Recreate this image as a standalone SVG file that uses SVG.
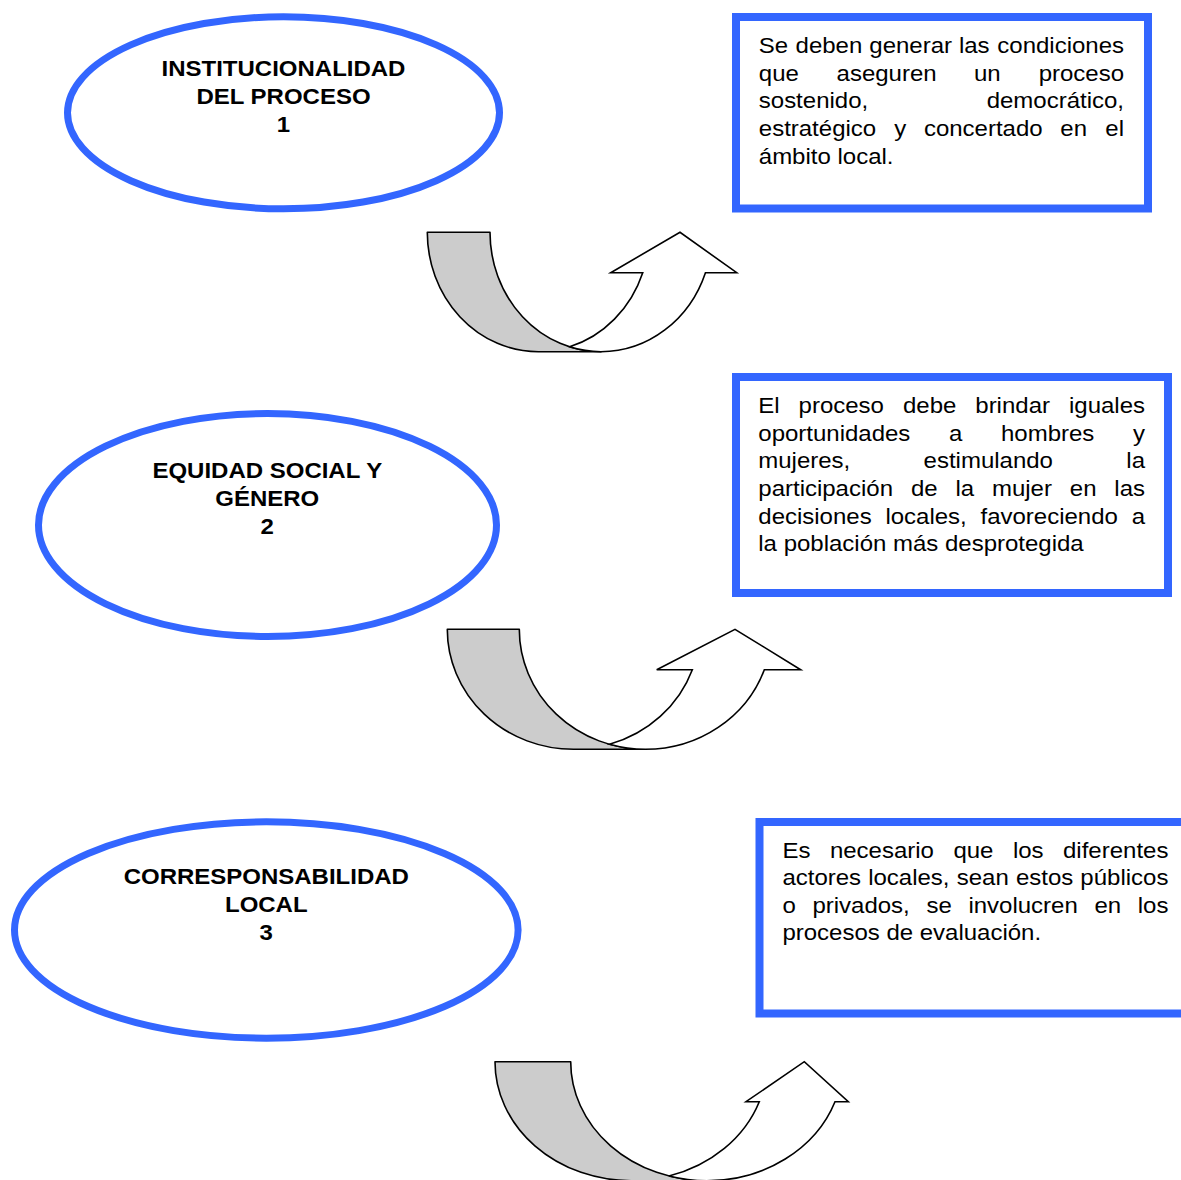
<svg xmlns="http://www.w3.org/2000/svg" width="1181" height="1180" viewBox="0 0 1181 1180">
  <style>
    .oval { fill: #ffffff; stroke: #3366ff; stroke-width: 7; }
    .box { fill: #ffffff; stroke: #3366ff; stroke-width: 8; }
    .title { font-family: "Liberation Sans", Arial, sans-serif; font-weight: bold; font-size: 24px; text-anchor: middle; fill: #000000; }
    .body { font-family: "Liberation Sans", Arial, sans-serif; font-size: 24px; fill: #000000; }
    .end { text-anchor: end; }
    .back { fill: #cccccc; stroke: #000000; stroke-width: 1.6; stroke-linejoin: round; }
    .front { fill: #ffffff; stroke: #000000; stroke-width: 1.6; stroke-linejoin: miter; }
  </style>
  <rect width="1181" height="1180" fill="#ffffff"/>

  <!-- principle 1 -->
  <g id="oval-1">
    <ellipse class="oval" cx="283.5" cy="112.8" rx="216" ry="96"/>
    <g transform="translate(0 75.7) scale(1 0.9333)">
      <text class="title" x="283.5" y="0">INSTITUCIONALIDAD</text>
      <text class="title" x="283.5" y="30">DEL PROCESO</text>
      <text class="title" x="283.5" y="60">1</text>
    </g>
  </g>
  <g id="note-1">
    <rect class="box" x="736" y="17" width="412" height="191.5"/>
    <g transform="translate(0 53.3) scale(1 0.9333)">
      <text class="body" y="0"><tspan x="758.8">Se</tspan><tspan x="795.6">deben</tspan><tspan x="869.3">generar</tspan><tspan x="958.9">las</tspan><tspan class="end" x="1124">condiciones</tspan></text>
      <text class="body" y="29.57"><tspan x="758.8">que</tspan><tspan x="836.6">aseguren</tspan><tspan x="973.9">un</tspan><tspan class="end" x="1124">proceso</tspan></text>
      <text class="body" y="59.14"><tspan x="758.8">sostenido,</tspan><tspan class="end" x="1124">democrático,</tspan></text>
      <text class="body" y="88.71"><tspan x="758.8">estratégico</tspan><tspan x="894.3">y</tspan><tspan x="923.9">concertado</tspan><tspan x="1060.3">en</tspan><tspan class="end" x="1124">el</tspan></text>
      <text class="body" x="758.8" y="118.29">ámbito local.</text>
    </g>
  </g>

  <!-- principle 2 -->
  <g id="oval-2">
    <ellipse class="oval" cx="267.5" cy="525" rx="229" ry="111.5"/>
    <g transform="translate(0 477.7) scale(1 0.9333)">
      <text class="title" x="267.3" y="0">EQUIDAD SOCIAL Y</text>
      <text class="title" x="267.3" y="30">GÉNERO</text>
      <text class="title" x="267.3" y="60">2</text>
    </g>
  </g>
  <g id="note-2">
    <rect class="box" x="736" y="377" width="432" height="216"/>
    <g transform="translate(0 413.3) scale(1 0.9333)">
      <text class="body" y="0"><tspan x="758.3">El</tspan><tspan x="798.6">proceso</tspan><tspan x="903">debe</tspan><tspan x="975.3">brindar</tspan><tspan class="end" x="1145">iguales</tspan></text>
      <text class="body" y="29.57"><tspan x="758.3">oportunidades</tspan><tspan x="949">a</tspan><tspan x="1001">hombres</tspan><tspan class="end" x="1145">y</tspan></text>
      <text class="body" y="59.14"><tspan x="758.3">mujeres,</tspan><tspan x="923.6">estimulando</tspan><tspan class="end" x="1145">la</tspan></text>
      <text class="body" y="88.71"><tspan x="758.3">participación</tspan><tspan x="910.9">de</tspan><tspan x="955.4">la</tspan><tspan x="991.9">mujer</tspan><tspan x="1069.8">en</tspan><tspan class="end" x="1145">las</tspan></text>
      <text class="body" y="118.29"><tspan x="758.3">decisiones</tspan><tspan x="885.4">locales,</tspan><tspan x="980.5">favoreciendo</tspan><tspan class="end" x="1145">a</tspan></text>
      <text class="body" x="758.3" y="147.86">la población más desprotegida</text>
    </g>
  </g>

  <!-- principle 3 -->
  <g id="oval-3">
    <ellipse class="oval" cx="266.3" cy="930" rx="251.8" ry="108.2"/>
    <g transform="translate(0 884) scale(1 0.9333)">
      <text class="title" x="266.3" y="0">CORRESPONSABILIDAD</text>
      <text class="title" x="266.3" y="30">LOCAL</text>
      <text class="title" x="266.3" y="60">3</text>
    </g>
  </g>
  <g id="note-3">
    <rect class="box" x="759.5" y="822" width="450" height="191.5"/>
    <g transform="translate(0 857.7) scale(1 0.9333)">
      <text class="body" y="0"><tspan x="782.4">Es</tspan><tspan x="829.9">necesario</tspan><tspan x="953.4">que</tspan><tspan x="1012.9">los</tspan><tspan class="end" x="1168.4">diferentes</tspan></text>
      <text class="body" y="29.57"><tspan x="782.4">actores</tspan><tspan x="868.2">locales,</tspan><tspan x="956.7">sean</tspan><tspan x="1015.9">estos</tspan><tspan class="end" x="1168.4">públicos</tspan></text>
      <text class="body" y="59.14"><tspan x="782.4">o</tspan><tspan x="812.4">privados,</tspan><tspan x="926.4">se</tspan><tspan x="968.4">involucren</tspan><tspan x="1094.4">en</tspan><tspan class="end" x="1168.4">los</tspan></text>
      <text class="body" x="782.4" y="88.71">procesos de evaluación.</text>
    </g>
  </g>

  <!-- curved up arrows: shaded back band, then the front band with its head -->
  <g id="connectors">
    <g id="arrow-1">
      <path class="back" d="M427.3,232.3 A111,119.4 0 0 0 538.3,351.7 L601,351.7 A111,119.4 0 0 1 490,232.3 Z"/>
      <path class="front" d="M569.65,346.84 A111,119.4 0 0 0 642.75,272.7 L610.7,272.7 L680,232.3 L736.7,272.7 L705.45,272.7 A111,119.4 0 0 1 601,351.7 A111,119.4 0 0 1 569.65,346.84 Z"/>
    </g>
    <g id="arrow-2">
      <path class="back" d="M447.3,629.3 A126.2,120 0 0 0 573.5,749.3 L645.5,749.3 A126.2,120 0 0 1 519.3,629.3 Z"/>
      <path class="front" d="M609.5,744.26 A126.2,120 0 0 0 692.33,669.7 L656.7,669.7 L735,629.3 L800.7,669.7 L764.33,669.7 A126.2,120 0 0 1 645.5,749.3 A126.2,120 0 0 1 609.5,744.26 Z"/>
    </g>
    <g id="arrow-3">
      <path class="back" d="M495,1061.7 A136.1,119 0 0 0 631.1,1180.7 L706.8,1180.7 A136.1,119 0 0 1 570.7,1061.7 Z"/>
      <path class="front" d="M668.95,1176 A136.1,119 0 0 0 759.28,1101.7 L746,1101.7 L804.3,1061.7 L848.3,1101.7 L835,1101.7 A136.1,119 0 0 1 706.8,1180.7 A136.1,119 0 0 1 668.95,1176 Z"/>
    </g>
  </g>
</svg>
